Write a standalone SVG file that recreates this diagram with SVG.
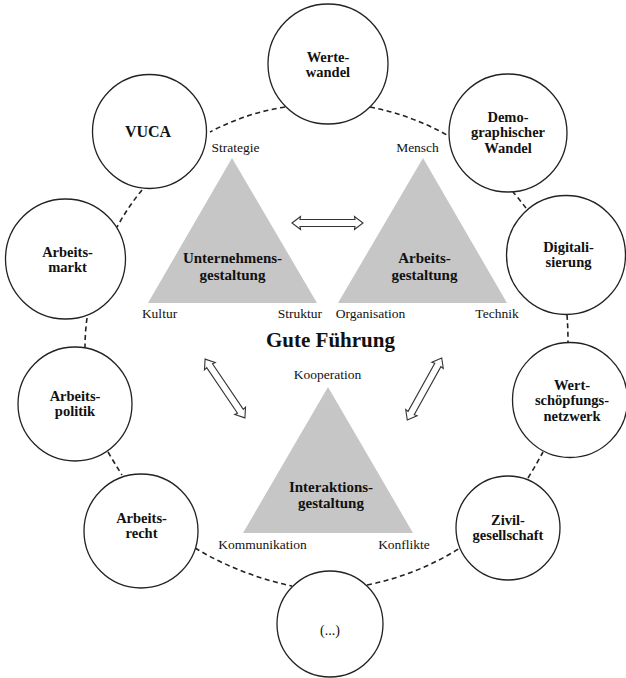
<svg xmlns="http://www.w3.org/2000/svg" width="626" height="678" viewBox="0 0 626 678">
<style>
text{font-family:"Liberation Serif","Times New Roman",serif;fill:#111;text-anchor:middle}
.n{font-size:14.5px;font-weight:bold}
.c{font-size:13.5px}
.t{font-size:15px;font-weight:bold}
.ring{fill:#fff;stroke:#222;stroke-width:1.3}
.tri{fill:#c6c6c6;stroke:none}
.dash{fill:none;stroke:#222;stroke-width:1.6;stroke-dasharray:5 3.5}
.arr{fill:#fff;stroke:#333;stroke-width:1.1;stroke-linejoin:miter}
</style>
<defs>
<polygon id="darr" points="-35.5,0 -27,-6.5 -27.5,-3.5 27.5,-3.5 27,-6.5 35.5,0 27,6.5 27.5,3.5 -27.5,3.5 -27,6.5"/>
</defs>
<rect width="626" height="678" fill="#fff"/>
<g id="connectors">
<path class="dash" d="M285,107 Q246,113 210,132"/>
<path class="dash" d="M370,107 Q411,115 447,135"/>
<path class="dash" d="M142,190 Q128,207 117,227"/>
<path class="dash" d="M87,318 Q85,333 85,348"/>
<path class="dash" d="M108,452 Q115,464 122,475"/>
<path class="dash" d="M195,548 Q240,575 292,586"/>
<path class="dash" d="M367,585 Q417,575 460,548"/>
<path class="dash" d="M528,478 Q536,465 543,452"/>
<path class="dash" d="M567,315 Q568,328 568,342"/>
<path class="dash" d="M526,208 Q520,200 513,192"/>
<use href="#darr" class="arr" transform="translate(327.5,223)"/>
<use href="#darr" class="arr" transform="translate(225,388.5) rotate(55.9)"/>
<use href="#darr" class="arr" transform="translate(424.5,389) rotate(-61)"/>
</g>
<g id="werte">
<circle class="ring" cx="328" cy="64" r="60"/>
<text class="n" x="328" y="62">Werte-</text>
<text class="n" x="328" y="77">wandel</text>
</g>
<g id="demo">
<circle class="ring" cx="508" cy="133" r="59"/>
<text class="n" x="508" y="121.5">Demo-</text>
<text class="n" x="508" y="137">graphischer</text>
<text class="n" x="508" y="153">Wandel</text>
</g>
<g id="vuca">
<circle class="ring" cx="149.5" cy="131.5" r="57"/>
<text class="n" x="148" y="137" style="font-size:16px">VUCA</text>
</g>
<g id="markt">
<circle class="ring" cx="65.5" cy="259" r="60"/>
<text class="n" x="67.5" y="257">Arbeits-</text>
<text class="n" x="67.5" y="272">markt</text>
</g>
<g id="politik">
<circle class="ring" cx="75" cy="404" r="57"/>
<text class="n" x="75" y="401">Arbeits-</text>
<text class="n" x="75" y="416">politik</text>
</g>
<g id="recht">
<circle class="ring" cx="141" cy="531" r="57"/>
<text class="n" x="141.5" y="523">Arbeits-</text>
<text class="n" x="141.5" y="538">recht</text>
</g>
<g id="digital">
<circle class="ring" cx="566" cy="255" r="59.5"/>
<text class="n" x="568.5" y="252">Digitali-</text>
<text class="n" x="568.5" y="267">sierung</text>
</g>
<g id="wertschoepfung">
<circle class="ring" cx="570" cy="400" r="57.5"/>
<text class="n" x="572" y="390">Wert-</text>
<text class="n" x="572" y="405">schöpfungs-</text>
<text class="n" x="572" y="421">netzwerk</text>
</g>
<g id="zivil">
<circle class="ring" cx="508" cy="528" r="52"/>
<text class="n" x="508" y="525">Zivil-</text>
<text class="n" x="508" y="540">gesellschaft</text>
</g>
<g id="etc">
<circle class="ring" cx="330" cy="624" r="53"/>
<text x="330" y="635" style="font-size:14px">(...)</text>
</g>
<g id="unternehmen">
<polygon class="tri" points="232,158 148,303 317,303"/>
<text class="t" x="232.5" y="263">Unternehmens-</text>
<text class="t" x="232.5" y="280">gestaltung</text>
<text class="c" x="235.5" y="152">Strategie</text>
<text class="c" x="159.5" y="318">Kultur</text>
<text class="c" x="300" y="318">Struktur</text>
</g>
<g id="arbeit">
<polygon class="tri" points="423,158 338,303 507,303"/>
<text class="t" x="424.5" y="263">Arbeits-</text>
<text class="t" x="424.5" y="280">gestaltung</text>
<text class="c" x="417.5" y="152">Mensch</text>
<text class="c" x="370.5" y="318">Organisation</text>
<text class="c" x="497" y="318">Technik</text>
</g>
<g id="interaktion">
<polygon class="tri" points="328,387 243,533 413,533"/>
<text class="t" x="331" y="492">Interaktions-</text>
<text class="t" x="331" y="508">gestaltung</text>
<text class="c" x="327.5" y="379">Kooperation</text>
<text class="c" x="262.5" y="549">Kommunikation</text>
<text class="c" x="404" y="549">Konflikte</text>
</g>
<g id="gute">
<text x="330.5" y="347" style="font-size:21px;font-weight:bold">Gute Führung</text>
</g>
</svg>
